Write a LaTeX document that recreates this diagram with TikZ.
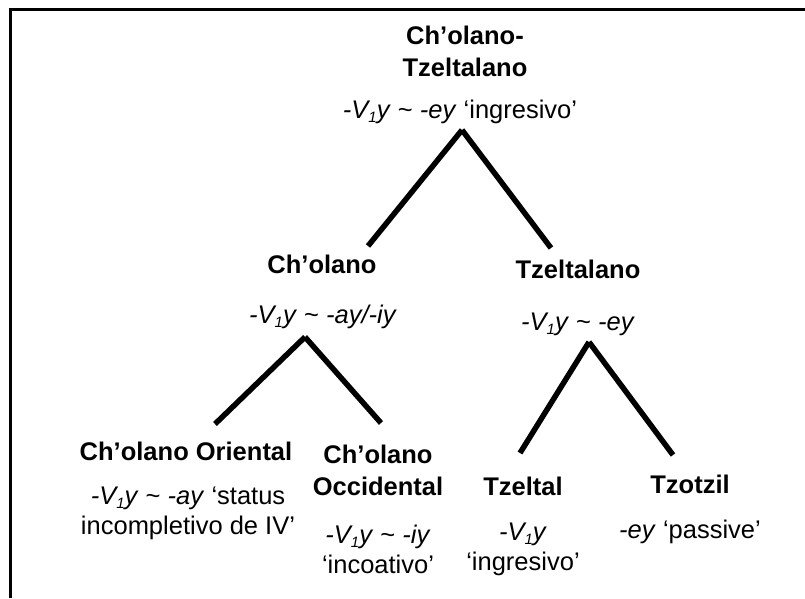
\documentclass[tikz,border=0pt]{standalone}
\usepackage{fontspec}
\setmainfont{Liberation Sans}
\tikzstyle{lS}=[inner sep = 0pt, font=\fontsize{25.5}{32}\selectfont\bfseries, align=center]
\tikzstyle{gS}=[inner sep = 0pt, font=\fontsize{25.5}{30}\selectfont, align=center]
\tikzstyle{bS}=[line width = 5.5pt, draw=black]
\tikzstyle{fS}=[line width = 3pt, draw=black]
\newcommand{\vy}{\textit{-V\raisebox{-0.35ex}{\fontsize{15}{15}\selectfont 1}y}}

\begin{document}
\begin{tikzpicture}[x=1pt, y=-1pt]
                \useasboundingbox (0,0) rectangle (805,598);
                \draw[fS] (10,598) -- (10,9) -- (805,9);
                % level 0
                \draw (465,51) node[lS] (r) {Ch’olano-\\Tzeltalano};
                \draw (460,118) node[gS, anchor=base] (rg) {\vy{} \textasciitilde{} \textit{-ey} ‘ingresivo’};
                % level 1
                \draw (322,273) node[lS, anchor=base] (c) {Ch’olano};
                \draw (323,323) node[gS, anchor=base] (cg) {\vy{} \textasciitilde{} \textit{-ay/-iy}};
                \draw (578,278) node[lS, anchor=base] (t) {Tzeltalano};
                \draw (578,330) node[gS, anchor=base] (tg) {\vy{} \textasciitilde{} \textit{-ey}};
                % level 2
                \draw (186,460) node[lS, anchor=base] (co) {Ch’olano Oriental};
                \draw (188,513) node[gS] (cog) {\vy{} \textasciitilde{} \textit{-ay} ‘status\\incompletivo de IV’};
                \draw (378,470) node[lS] (cc) {Ch’olano\\Occidental};
                \draw (378,549) node[gS] (ccg) {\vy{} \textasciitilde{} \textit{-iy}\\‘incoativo’};
                \draw (523,495) node[lS, anchor=base] (tl) {Tzeltal};
                \draw (523,549) node[gS] (tlg) {\vy\\‘ingresivo’};
                \draw (690,493) node[lS, anchor=base] (tz) {Tzotzil};
                \draw (690,538) node[gS, anchor=base] (tzg) {\textit{-ey} ‘passive’};
                % branch points
                \coordinate (r0) at (462,130);
                \coordinate (r1) at (368,246);
                \coordinate (r2) at (551,248);
                \coordinate (c0) at (305,337);
                \coordinate (c1) at (215,424);
                \coordinate (c2) at (381,423);
                \coordinate (t0) at (589,342);
                \coordinate (t1) at (520,453);
                \coordinate (t2) at (673,455);
                \path
                    (r0) edge[bS] (r1)
                    (r0) edge[bS] (r2)
                    (c0) edge[bS] (c1)
                    (c0) edge[bS] (c2)
                    (t0) edge[bS] (t1)
                    (t0) edge[bS] (t2)
                ;
        \end{tikzpicture}
\end{document}
